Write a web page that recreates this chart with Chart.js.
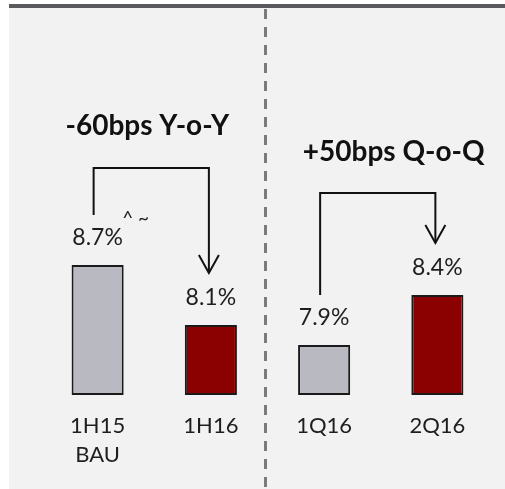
<!DOCTYPE html>
<html>
<head>
<meta charset="utf-8">
<script src="https://cdn.jsdelivr.net/npm/chart.js@4.4.1/dist/chart.umd.min.js"></script>
<style>
  html, body { margin: 0; padding: 0; background: #ffffff; }
  #margenChart { display: block; }
</style>
</head>
<body>
<canvas id="margenChart" width="505" height="489"></canvas>
<script>
//---------------------Datos-----------------------
const periodos = [['1H15', 'BAU'], '1H16', '1Q16', '2Q16'];
const margenes = [8.7, 8.1, 7.9, 8.4];
const coloresBarra = ['#b9b9c1', '#8b0000', '#b9b9c1', '#8b0000'];
const etiquetasValor = ['8.7%', '8.1%', '7.9%', '8.4%'];
const titulosCambio = ['-60bps Y-o-Y', '+50bps Q-o-Q'];
const notaBarra1 = '^ ~';
const ejeMin = 7.4;
const ejeMax = 9.8;

//---------------------Fondo, separador y anotaciones-----------------------
const fondoPanel = {
    id: 'fondoPanel',
    beforeDraw(chart) {
        const c = chart.ctx;
        c.save();
        c.fillStyle = '#ffffff';
        c.fillRect(0, 0, chart.width, chart.height);
        c.fillStyle = '#f2f2f2';
        c.fillRect(9, 8, chart.width - 9, chart.height - 8);
        c.fillStyle = '#5a5a5e';
        c.fillRect(9, 4, chart.width - 9, 4);

        // línea punteada entre las dos comparaciones
        const x = chart.scales.x;
        const sepX = (x.getPixelForValue(1) + x.getPixelForValue(2)) / 2 - 2;
        c.strokeStyle = '#7a7a7a';
        c.lineWidth = 3;
        c.setLineDash([10, 8]);
        c.beginPath();
        c.moveTo(sepX, 9);
        c.lineTo(sepX, chart.height);
        c.stroke();
        c.restore();
    }
};

const anotaciones = {
    id: 'anotaciones',
    afterDatasetsDraw(chart) {
        const c = chart.ctx;
        const x = chart.scales.x;
        const y = chart.scales.y;
        const cx = i => x.getPixelForValue(i);
        const etiquetaY = i => y.getPixelForValue(margenes[i]) - 27;

        c.save();
        // valores sobre cada barra
        c.fillStyle = '#1e1e1e';
        c.font = '23px Lato';
        c.textAlign = 'center';
        c.textBaseline = 'middle';
        etiquetasValor.forEach((t, i) => c.fillText(t, cx(i), etiquetaY(i)));

        c.font = '19px Lato';
        c.fillText(notaBarra1, cx(0) + 38, etiquetaY(0) - 19);

        // flechas en corchete
        const corchete = (i, j, arriba) => {
            const x0 = cx(i) - 4, y0 = etiquetaY(i) - 23;
            const x1 = cx(j) - 2, y1 = etiquetaY(j) - 25;
            c.strokeStyle = '#111111';
            c.lineWidth = 2;
            c.beginPath();
            c.moveTo(x0, y0);
            c.lineTo(x0, arriba);
            c.lineTo(x1, arriba);
            c.lineTo(x1, y1);
            c.stroke();
            c.beginPath();
            c.moveTo(x1 - 10, y1 - 18);
            c.lineTo(x1, y1);
            c.lineTo(x1 + 10, y1 - 18);
            c.stroke();
        };
        corchete(0, 1, 168);
        corchete(2, 3, 193);

        // títulos de cada comparación
        c.fillStyle = '#111111';
        c.font = 'bold 28px Lato';
        c.fillText(titulosCambio[0], (cx(0) + cx(1)) / 2 - 7, 126);
        c.fillText(titulosCambio[1], (cx(2) + cx(3)) / 2 + 13, 152);
        c.restore();
    }
};

//---------------------Gráfica de barras – Margen-----------------------
const ctxMargen = document.getElementById('margenChart').getContext('2d');
const margenChart = new Chart(ctxMargen, {
    type: 'bar',
    data: {
        labels: periodos,
        datasets: [{
            data: margenes,
            base: ejeMin,
            backgroundColor: coloresBarra,
            borderColor: '#1a1a1a',
            borderWidth: 2,
            borderSkipped: false,
            barPercentage: 0.46,
            categoryPercentage: 1,
            clip: false
        }]
    },
    options: {
        responsive: false,
        animation: false,
        layout: { padding: { top: 155, left: 41, right: 11, bottom: 4 } },
        plugins: {
            legend: { display: false },
            tooltip: { enabled: false }
        },
        scales: {
            x: {
                grid: { display: false, drawTicks: false },
                border: { display: false },
                ticks: {
                    color: '#1e1e1e',
                    font: { family: 'Lato', size: 22, lineHeight: 1.32 },
                    padding: 16,
                    maxRotation: 0,
                    autoSkip: false
                }
            },
            y: {
                display: false,
                min: ejeMin,
                max: ejeMax
            }
        }
    },
    plugins: [fondoPanel, anotaciones]
});
</script>
</body>
</html>
